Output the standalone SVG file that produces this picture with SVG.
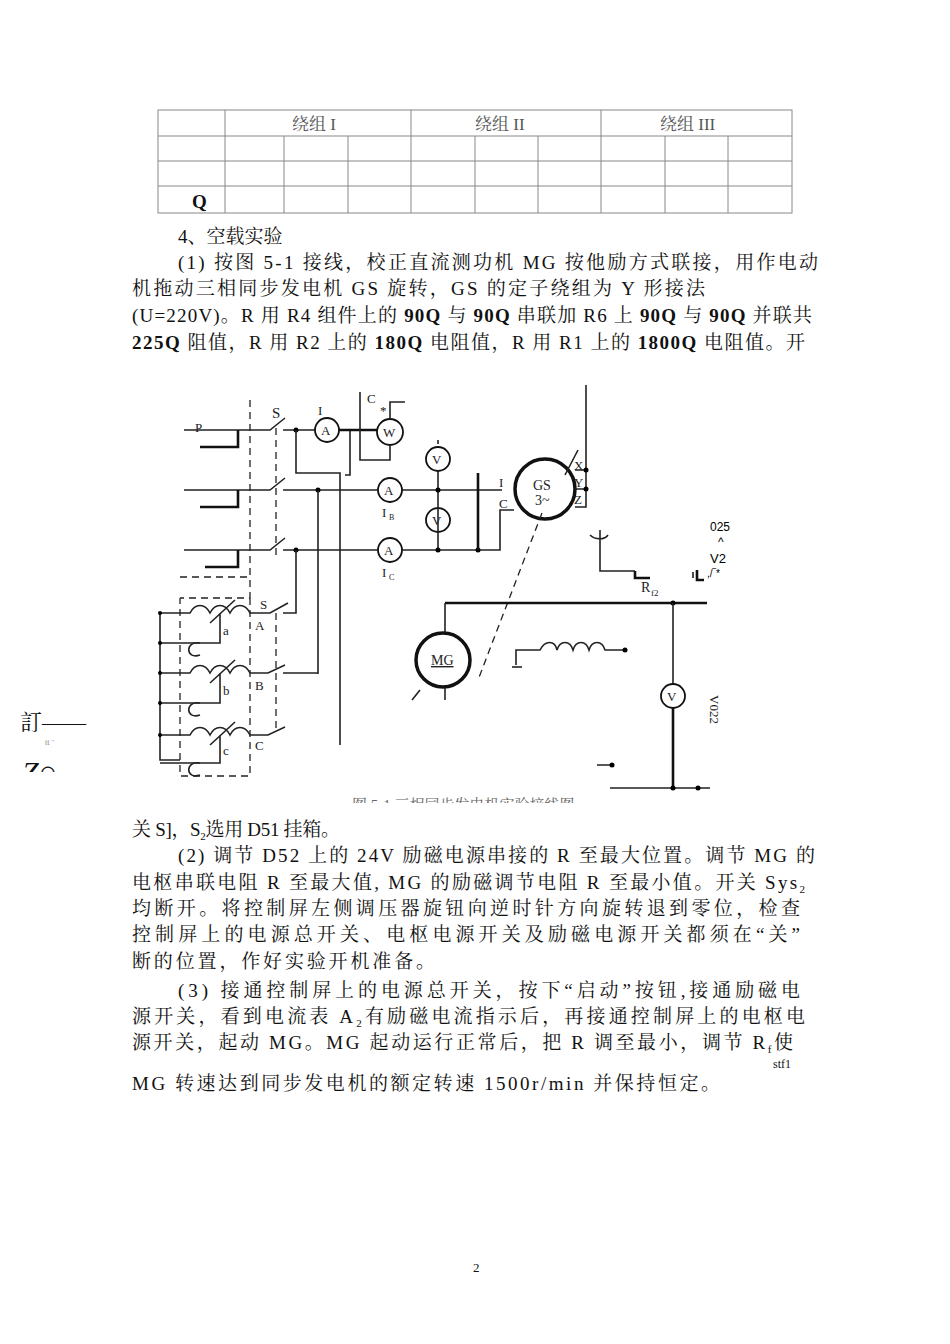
<svg xmlns="http://www.w3.org/2000/svg" width="950" height="1344" viewBox="0 0 950 1344">
<style>
.t{font-family:"Liberation Serif","Noto Serif CJK SC","Noto Sans CJK SC",serif;font-size:19px;fill:#111}
.s{font-family:"Liberation Serif",serif;font-size:13px;fill:#222}
.w{stroke:#222;stroke-width:1.6;fill:none}
.b{stroke:#111;stroke-width:2.6;fill:none}
.d{stroke:#222;stroke-width:1.3;fill:none;stroke-dasharray:7 5}
.m{stroke:#111;stroke-width:1.8;fill:#fff}
.g{stroke:#888;stroke-width:1;fill:none}
</style>
<rect width="950" height="1344" fill="#fff"/>
<g id="table" class="g">
<rect x="158" y="110" width="634" height="103"/>
<path d="M158 136H792M158 161H792M158 186H792M225 110V213M411 110V213M601 110V213M284 136V213M348 136V213M475 136V213M538 136V213M665 136V213M728 136V213"/>
</g>
<g class="t" style="font-size:17px;fill:#555">
<text x="292" y="130">绕组 I</text><text x="475" y="130">绕组 II</text><text x="660" y="130">绕组 III</text>
</g>
<text class="t" x="192" y="208" style="font-weight:bold">Q</text>
<g id="text1" class="t" lengthAdjust="spacing">
<text x="178" y="243">4、空载实验</text>
<text x="178" y="269" textLength="640">(1)  按图 5-1 接线，校正直流测功机 MG 按他励方式联接，用作电动</text>
<text x="132" y="295" textLength="573">机拖动三相同步发电机 GS 旋转，GS 的定子绕组为 Y 形接法</text>
<text x="132" y="322" textLength="680">(U=220V)。R 用 R4 组件上的 <tspan font-weight="bold">90Q</tspan> 与 <tspan font-weight="bold">90Q</tspan> 串联加 R6 上 <tspan font-weight="bold">90Q</tspan> 与 <tspan font-weight="bold">90Q</tspan> 并联共</text>
<text x="132" y="349" textLength="673"><tspan font-weight="bold">225Q</tspan> 阻值，R 用 R2 上的 <tspan font-weight="bold">180Q</tspan> 电阻值，R 用 R1 上的 <tspan font-weight="bold">1800Q</tspan> 电阻值。开</text>
</g>
<g id="circuit">
<g id="source">
<path class="w" d="M184 430H265M184 490H265M184 550H265"/>
<path class="b" d="M238 430V447H200M238 490V507H200M238 550V567H205"/>
<path class="d" d="M250 400V577H180M250 580V598H180M250 598V776H180V598"/>
<text class="s" x="195" y="432">P</text>
</g>
<g id="s1">
<path class="w" d="M265 430L270 430L285 418M265 490H270L285 478M265 550H270L285 538M283 430H350V475H345M283 490H502M283 550H500V510H514"/>
<path class="d" d="M276 428V555"/>
<text class="s" x="272" y="418" style="font-size:15px">S</text>
<circle cx="296" cy="430" r="2.5"/><circle cx="318" cy="490" r="2.5"/><circle cx="296" cy="550" r="2.5"/>
<path class="w" d="M296 430V473H340V745M318 490V674M296 550V590"/>
</g>
<g id="meters">
<circle class="m" cx="327" cy="430" r="12"/><text class="s" x="321" y="435">A</text>
<circle class="m" cx="390" cy="490" r="12"/><text class="s" x="384" y="495">A</text>
<circle class="m" cx="390" cy="550" r="12"/><text class="s" x="384" y="555">A</text>
<path class="b" d="M339 430H378"/>
<circle class="m" cx="390" cy="432" r="13"/><text class="s" x="383" y="437">W</text>
<path class="w" d="M360 392V460H390V445M390 419V402H405"/>
<text class="s" x="367" y="403">C</text><text class="s" x="380" y="415">*</text>
<text class="s" x="318" y="415">I</text><text class="s" x="382" y="517">I</text><text class="s" x="389" y="520" style="font-size:8px">B</text>
<text class="s" x="382" y="577">I</text><text class="s" x="389" y="580" style="font-size:8px">C</text>
<circle class="m" cx="438" cy="459" r="12"/><text class="s" x="432" y="464">V</text>
<circle class="m" cx="438" cy="520" r="12"/><text class="s" x="432" y="525">V</text>
<path class="w" d="M438 471V550M438 444V440"/>
<circle cx="438" cy="490" r="2.5"/><circle cx="438" cy="550" r="2.5"/><circle cx="478" cy="550" r="2.5"/>
<path class="b" d="M478 473V550"/>
</g>
<g id="gs">
<circle cx="545" cy="489" r="30" fill="#fff" stroke="#111" stroke-width="3.5"/>
<text class="s" x="533" y="490" style="font-size:14px">GS</text><text class="s" x="535" y="505" style="font-size:14px">3~</text>
<path class="w" d="M586 385V507H575M575 470H586M575 489H586M565 475L578 450"/>
<circle cx="586" cy="470" r="2.5"/><circle cx="586" cy="489" r="2.5"/>
<text class="s" x="574" y="470">X</text><text class="s" x="574" y="487">Y</text><text class="s" x="574" y="504">Z</text>
<text class="s" x="499" y="487">I</text><text class="s" x="499" y="508">C</text>
<path class="d" d="M542 513L478 680"/>
</g>
<g id="rf2">
<path class="w" d="M600 530V571H635M693 572V578"/>
<path class="b" d="M635 571V578H650M697 570V580H704"/>
<path class="w" d="M590 535C595 540 605 540 608 535"/>
<text class="s" x="641" y="592" style="font-size:14px">R</text><text class="s" x="651" y="596" style="font-size:9px">f2</text>
<text font-family="Liberation Sans,sans-serif" font-size="12" x="710" y="531">025</text>
<text font-family="Liberation Sans,sans-serif" font-size="12" x="718" y="546">^</text>
<text font-family="Liberation Sans,sans-serif" font-size="13" x="710" y="563">V2</text>
<text font-family="Liberation Sans,sans-serif" font-size="10" x="707" y="577">,/‾*</text>
</g>
<g id="mg">
<path class="b" d="M445 603H707"/>
<circle cx="673" cy="603" r="2.5"/>
<path class="w" d="M445 603V640M673 603V684"/>
<circle cx="443" cy="660" r="27" fill="#fff" stroke="#111" stroke-width="3.5"/>
<text class="s" x="431" y="665" style="font-size:14px;text-decoration:underline">MG</text>
<path class="w" d="M445 688V700M420 690L412 700"/>
<path class="w" d="M516 665V650H540C545 640 555 640 557 650C560 640 570 640 573 650C576 640 586 640 589 650C592 640 602 640 605 650H625"/>
<path class="w" d="M512 667H522"/>
<circle cx="625" cy="650" r="2.5"/>
<circle class="m" cx="673" cy="696" r="12"/><text class="s" x="667" y="701">V</text>
<text class="s" x="695" y="690" transform="rotate(90 700 700)">V022</text>
<path class="b" d="M673 708V788"/>
<path class="w" d="M610 788H710M597 765H612"/>
<circle cx="673" cy="788" r="2.5"/><circle cx="698" cy="788" r="2.5"/><circle cx="612" cy="765" r="2.5"/>
</g>
<g id="s2">
<path class="w" d="M160 613V760H180M160 613H190C195 603 205 603 210 613C215 603 225 603 230 613C235 603 245 603 250 613H270L288 603M160 643H220V613M160 673H190C195 663 205 663 210 673C215 663 225 663 230 673C235 663 245 663 250 673H268L285 665M160 703H220V673M160 735H190C195 725 205 725 210 735C215 725 225 725 230 735C235 725 245 725 250 735H268L285 727M160 763H220V735M210 623L235 600M210 683L235 660M210 745L235 722"/>
<circle cx="160" cy="613" r="2"/><circle cx="160" cy="643" r="2"/><circle cx="160" cy="673" r="2"/><circle cx="160" cy="703" r="2"/><circle cx="160" cy="735" r="2"/>
<path class="d" d="M276 613V728"/>
<path class="w" d="M283 613H296V590M283 673H318"/>
<path class="w" d="M200 643C185 640 185 660 200 655M200 703C185 700 185 720 200 715M200 763C185 760 185 780 200 775"/>
<text class="s" x="223" y="635">a</text><text class="s" x="255" y="630">A</text><text class="s" x="260" y="609">S</text>
<text class="s" x="223" y="695">b</text><text class="s" x="255" y="690">B</text>
<text class="s" x="223" y="755">c</text><text class="s" x="255" y="750">C</text>
</g>
<text class="t" x="352" y="810" style="font-size:15px;fill:#666">图 5-1 三相同步发电机实验接线图</text>
</g>
<rect x="0" y="803" width="950" height="14" fill="#fff"/>
<text class="t" x="20" y="730" style="font-size:22px">訂——</text>
<text class="s" x="45" y="745" style="font-size:8px;fill:#888">tt ˉ</text>
<text class="t" x="22" y="782" style="font-size:30px;font-style:italic">Z○</text>
<rect x="0" y="772" width="120" height="30" fill="#fff"/>
<g id="text2" class="t">
<text x="132" y="836" textLength="208">关 S]，S<tspan font-size="11" dy="4">2</tspan><tspan dy="-4">选用 D51 挂箱。</tspan></text>
<text x="178" y="862" textLength="637">(2)  调节 D52 上的 24V 励磁电源串接的 R 至最大位置。调节 MG 的</text>
<text x="132" y="889" textLength="673">电枢串联电阻 R 至最大值, MG 的励磁调节电阻 R 至最小值。开关 Sys<tspan font-size="11" dy="4">2</tspan></text>
<text x="132" y="915" textLength="668">均断开。将控制屏左侧调压器旋钮向逆时针方向旋转退到零位，检查</text>
<text x="132" y="941" textLength="668">控制屏上的电源总开关、电枢电源开关及励磁电源开关都须在“关”</text>
<text x="132" y="968" textLength="303">断的位置，作好实验开机准备。</text>
<text x="178" y="997" textLength="622">(3)  接通控制屏上的电源总开关，按下“启动”按钮,接通励磁电</text>
<text x="132" y="1023" textLength="673">源开关，看到电流表 A<tspan font-size="11" dy="4">2</tspan><tspan dy="-4">有励磁电流指示后，再接通控制屏上的电枢电</tspan></text>
<text x="132" y="1049" textLength="661">源开关，起动 MG。MG 起动运行正常后，把 R 调至最小，调节 R<tspan font-size="11" dy="4">f</tspan><tspan dy="-4">使</tspan></text>
<text x="773" y="1068" style="font-size:12px">stf1</text>
<text x="132" y="1090" textLength="588">MG 转速达到同步发电机的额定转速 1500r/min 并保持恒定。</text>
<text x="473" y="1272" style="font-size:13px">2</text>
</g>
</svg>
